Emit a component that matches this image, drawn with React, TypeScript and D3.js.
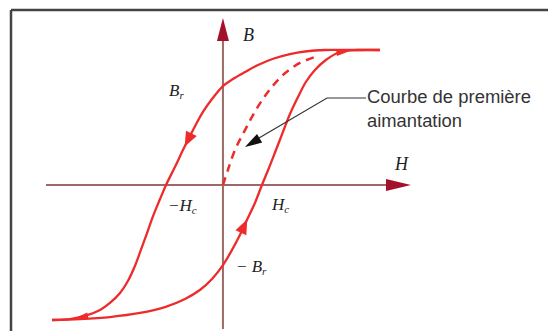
import React from "react";
import * as d3 from "d3";

// Hysteresis loop of a ferromagnetic material (arbitrary units, saturation = ±100)
// Descending branch: from positive saturation down to negative saturation
const descendingH = [91.8, 74.3, 59.7, 48.0, 39.2, 29.8, 20.5, 12.9, 5.8, 0, -6.4, -11.7, -17.5, -23.4, -28.1, -33.3, -36.8, -40.9, -44.4, -48.0, -51.5, -55.6, -60.2, -66.1, -71.9, -80.7, -89.5, -100];
const descendingB = [100, 100, 100, 98.9, 97.0, 93.7, 88.9, 83.7, 78.5, 73.3, 63.7, 54.1, 40.7, 25.9, 13.3, 0, -10.4, -23.0, -35.6, -48.1, -60, -71.1, -80, -87.4, -92.6, -97, -99.3, -100];

// Ascending branch: from negative saturation back up to positive saturation
const ascendingH = [-100, -83.6, -66.1, -48.5, -33.9, -22.2, -13.5, -6.4, 0, 5.3, 9.9, 14, 18.7, 22.8, 26.9, 31, 35.1, 39.2, 43.9, 48.5, 53.8, 60.2, 68.4, 78.9, 91.8];
const ascendingB = [-100, -99.3, -97.8, -94.8, -90.4, -84.4, -77.8, -69.6, -59.3, -48.1, -37, -25.9, -13.3, 0, 12.6, 25.9, 39.3, 52.6, 65.2, 76.3, 85.2, 92.6, 98.5, 100, 100];

// First magnetization curve, starting from the demagnetized state
const firstH = [0, 2.9, 7.0, 12.9, 19.3, 26.3, 35.1, 45, 55.6];
const firstB = [0, 11.1, 25.9, 40.7, 55.6, 68.9, 81.5, 90.4, 95.6];

// Remanence and coercive field values marked on the axes
const remanenceB = 73.3;
const remanenceNegB = -59.3;
const coerciveNegH = -33.3;
const coercivePosH = 22.8;

const annotationLines = ["Courbe de première", "aimantation"];

const W = 548;
const H = 331;

const x = d3.scaleLinear().domain([-100, 110]).range([52, 411]);
const y = d3.scaleLinear().domain([-100, 100]).range([320, 50]);

const RED = "#ee2b2b";
const AXIS = "#9c6a66";
const AXIS_HEAD = "#a3112b";

type Pt = [number, number];
const zip = (hs: number[], bs: number[]): Pt[] => hs.map((h, i) => [h, bs[i]]);

const line = d3
  .line<Pt>()
  .x((d) => x(d[0]))
  .y((d) => y(d[1]))
  .curve(d3.curveCatmullRom.alpha(0.5));

// Filled triangle whose tip sits at (tx, ty), pointing along angle a
function arrowHead(tx: number, ty: number, a: number, len: number, half: number) {
  const bx = tx - len * Math.cos(a);
  const by = ty - len * Math.sin(a);
  const px = -Math.sin(a) * half;
  const py = Math.cos(a) * half;
  return `M${tx},${ty}L${bx + px},${by + py}L${bx - px},${by - py}Z`;
}

// Arrow placed on a branch between data points i and i+1, pointing in travel direction
function branchArrow(pts: Pt[], i: number, t: number, len: number, half: number) {
  const [h0, b0] = pts[i];
  const [h1, b1] = pts[i + 1];
  const x0 = x(h0), y0 = y(b0), x1 = x(h1), y1 = y(b1);
  const a = Math.atan2(y1 - y0, x1 - x0);
  const tx = x0 + (x1 - x0) * t;
  const ty = y0 + (y1 - y0) * t;
  return arrowHead(tx + Math.cos(a) * len * 0.5, ty + Math.sin(a) * len * 0.5, a, len, half);
}

export default function App() {
  const desc = zip(descendingH, descendingB);
  const asc = zip(ascendingH, ascendingB);
  const first = zip(firstH, firstB);

  const x0 = x(0);
  const y0 = y(0);
  const serif = "'Liberation Serif', 'DejaVu Serif', serif";
  const narrow = "'Liberation Sans Narrow', 'Liberation Sans', sans-serif";

  return (
    <svg
      width={W}
      height={H}
      viewBox={`0 0 ${W} ${H}`}
      style={{ position: "absolute", left: 0, top: 0, background: "#fff" }}
    >
      {/* frame */}
      <line x1={11} y1={10} x2={W} y2={10} stroke="#444" strokeWidth={2.5} />
      <line x1={11} y1={10} x2={11} y2={H} stroke="#444" strokeWidth={2.5} />

      {/* axes */}
      <line x1={46} y1={y0} x2={x(110) - 20} y2={y0} stroke={AXIS} strokeWidth={2} />
      <path d={arrowHead(x(110), y0, 0, 25, 6)} fill={AXIS_HEAD} />
      <line x1={x0} y1={329} x2={x0} y2={38} stroke={AXIS} strokeWidth={2} />
      <path d={arrowHead(x0, 18, -Math.PI / 2, 23, 6)} fill={AXIS_HEAD} />

      {/* hysteresis loop */}
      <path d={line(desc) ?? ""} fill="none" stroke={RED} strokeWidth={2.3} />
      <path d={line(asc) ?? ""} fill="none" stroke={RED} strokeWidth={2.3} />
      <path
        d={line(first) ?? ""}
        fill="none"
        stroke={RED}
        strokeWidth={2.5}
        strokeDasharray="8 6"
      />

      {/* direction arrows on the loop */}
      <path d={branchArrow(desc, 12, 0.5, 15, 6)} fill={RED} />
      <path d={branchArrow(asc, 10, 0.6, 15, 6)} fill={RED} />
      <path d={branchArrow(asc, 22, 0.2, 14, 3.5)} fill={RED} />
      <path d={branchArrow(desc, 25, 0.2, 12, 3)} fill={RED} />

      {/* axis labels */}
      <text x={243} y={41} fontFamily={serif} fontStyle="italic" fontSize={18} fill="#222">
        B
      </text>
      <text x={395} y={170} fontFamily={serif} fontStyle="italic" fontSize={18} fill="#222">
        H
      </text>

      {/* remanence and coercivity labels */}
      <text x={169} y={y(remanenceB) + 10} fontFamily={serif} fontStyle="italic" fontSize={17} fill="#222">
        B<tspan fontSize={11} dy={3}>r</tspan>
      </text>
      <text x={x0 + 13} y={y(remanenceNegB) + 7} fontFamily={serif} fontStyle="italic" fontSize={17} fill="#222">
        {"− B"}
        <tspan fontSize={11} dy={3}>r</tspan>
      </text>
      <text x={x(coerciveNegH) + 2} y={y0 + 26} fontFamily={serif} fontStyle="italic" fontSize={17} fill="#222">
        {"−H"}
        <tspan fontSize={11} dy={3}>c</tspan>
      </text>
      <text x={x(coercivePosH) + 10} y={y0 + 25} fontFamily={serif} fontStyle="italic" fontSize={17} fill="#222">
        H<tspan fontSize={11} dy={3}>c</tspan>
      </text>

      {/* annotation for the first magnetization curve */}
      <polyline points="366,98 327,98 259,138" fill="none" stroke="#333" strokeWidth={1.2} />
      <path d={arrowHead(245, 147, Math.atan2(147 - 98, 245 - 327), 17, 5)} fill="#111" />
      <text x={367} y={103} fontFamily={narrow} fontSize={17.5} fill="#333" textLength={164} lengthAdjust="spacingAndGlyphs">
        {annotationLines[0]}
      </text>
      <text x={367} y={127} fontFamily={narrow} fontSize={17.5} fill="#333" textLength={95} lengthAdjust="spacingAndGlyphs">
        {annotationLines[1]}
      </text>
    </svg>
  );
}
